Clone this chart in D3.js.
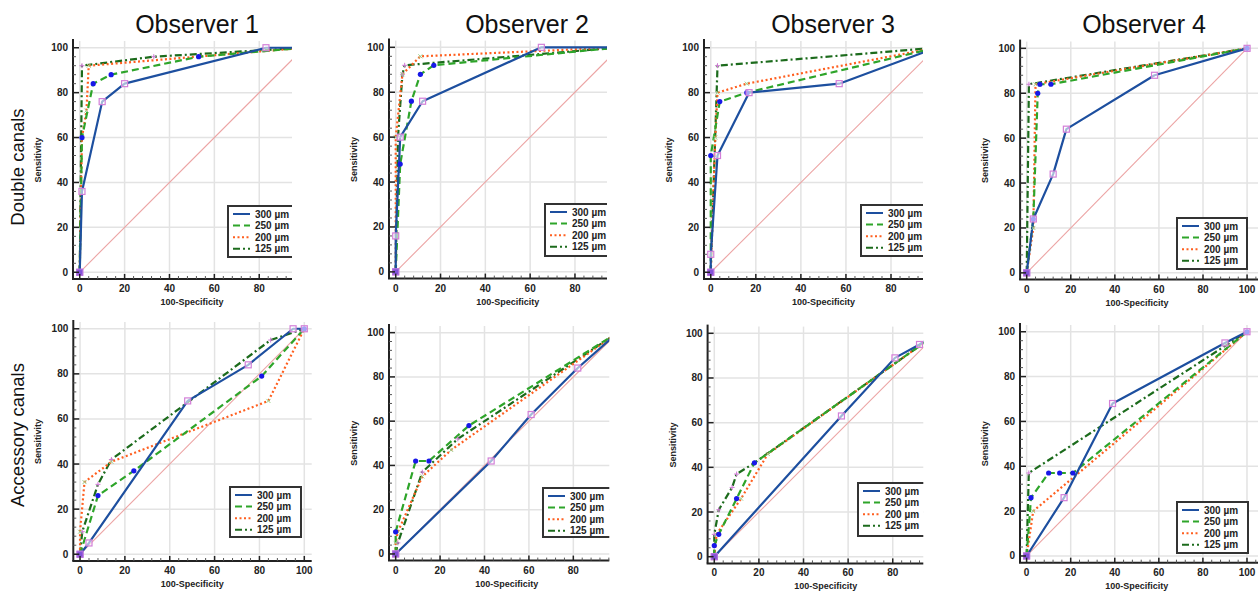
<!DOCTYPE html>
<html><head><meta charset="utf-8">
<script src="https://cdn.jsdelivr.net/npm/d3@7"></script>
<style>body{margin:0;background:#fff}svg{display:block;font-family:"Liberation Sans",Arial,sans-serif}</style>
</head><body><svg id="c" width="1258" height="591"></svg>
<script>
const observers = ["Observer 1","Observer 2","Observer 3","Observer 4"];
const rowLabels = ["Double canals","Accessory canals"];
const seriesNames = ["300 µm","250 µm","200 µm","125 µm"];
const tickValues = [0,20,40,60,80,100];
const xLabel = "100-Specificity";
const yLabel = "Sensitivity";

// Each panel: series in order 300, 250, 200, 125 µm; points are [100-Specificity, Sensitivity]
const doubleObs1 = [
  [[0,0],[1,36],[10,76],[20,84],[83,100],[100,100]],
  [[0,0],[1,60],[6,84],[14,88],[53,96],[100,100]],
  [[0,0],[1,60],[3,72],[4,92],[100,100]],
  [[0,0],[1,92],[33,96],[100,100]]
];
const doubleObs2 = [
  [[0,0],[0,16],[2,60],[12,76],[65,100],[100,100]],
  [[0,0],[2,48],[7,76],[11,88],[17,92],[100,100]],
  [[0,0],[0,60],[3,88],[11,96],[100,100]],
  [[0,0],[1,60],[3,88],[4,92],[100,100]]
];
const doubleObs3 = [
  [[0,0],[0,8],[3,52],[17,80],[57,84],[100,100]],
  [[0,0],[0,52],[4,76],[16,80],[100,100]],
  [[0,0],[2,60],[3,80],[16,84],[100,100]],
  [[0,0],[3,92],[100,100]]
];
const doubleObs4 = [
  [[0,0],[3,24],[12,44],[18,64],[58,88],[100,100]],
  [[0,0],[3,24],[5,80],[6,84],[11,84],[100,100]],
  [[0,0],[3,20],[4,84],[100,100]],
  [[0,0],[1,84],[100,100]]
];
const accessoryObs1 = [
  [[0,0],[4,5],[48,68],[75,84],[95,100],[100,100]],
  [[0,0],[8,26],[24,37],[81,79],[100,100]],
  [[0,0],[0,10],[2,32],[14,41],[84,68],[100,100]],
  [[0,0],[1,10],[8,31],[14,42],[85,95],[100,100]]
];
const accessoryObs2 = [
  [[0,0],[43,42],[61,63],[82,84],[100,100]],
  [[0,0],[0,10],[9,42],[15,42],[33,58],[100,100]],
  [[0,0],[0,5],[1,10],[12,35],[25,47],[100,100]],
  [[0,0],[1,5],[12,37],[28,52],[100,100]]
];
const accessoryObs3 = [
  [[0,0],[57,63],[81,89],[92,95],[100,100]],
  [[0,0],[0,5],[2,10],[10,26],[18,42],[100,100]],
  [[0,0],[1,10],[12,26],[24,46],[100,100]],
  [[0,0],[0,10],[2,21],[8,31],[10,37],[18,42],[100,100]]
];
const accessoryObs4 = [
  [[0,0],[17,26],[39,68],[90,95],[100,100]],
  [[0,0],[2,26],[10,37],[15,37],[21,37],[100,100]],
  [[0,0],[3,20],[100,100]],
  [[0,0],[1,37],[100,100]]
];
const panelData = [doubleObs1,doubleObs2,doubleObs3,doubleObs4,accessoryObs1,accessoryObs2,accessoryObs3,accessoryObs4];

// layout (pixels)
const panelBoxes = [
  {l:73,   t:41,   w:219,   h:238,   xMax:94.6, leg:{x:228, y:206, w:66, h:51}},
  {l:389,  t:40.6, w:218,   h:238,   xMax:94.3, leg:{x:545, y:204, w:64, h:52}},
  {l:704,  t:41,   w:219,   h:238,   xMax:94.2, leg:{x:861, y:205, w:64, h:51}},
  {l:1020.1,t:41.6,w:238,   h:238,   xMax:105,  leg:{x:1177,y:218, w:70, h:51}},
  {l:73.3, t:322,  w:238.4, h:239,   xMax:103.3,leg:{x:230, y:487, w:71, h:50}},
  {l:389,  t:326,  w:220.3, h:234.6, xMax:96.2, leg:{x:543, y:488, w:68, h:49}},
  {l:707.6,t:326.6,w:215.7, h:236.8, xMax:93.7, leg:{x:858, y:483, w:67, h:53}},
  {l:1020, t:325,  w:238,   h:237.7, xMax:105,  leg:{x:1177,y:502, w:71, h:51}}
];
const titleX = [197, 527, 833, 1144];

const styles = [
  {color:"#1d4f9f", dash:null,        width:2.2},
  {color:"#2ea52a", dash:"7,4",       width:2.2},
  {color:"#ff5f1f", dash:"2,2.5",     width:2.2},
  {color:"#1c6b1c", dash:"7,3,2,3",   width:2.2}
];

const svg = d3.select("#c");
const defs = svg.append("defs");

svg.selectAll("text.title").data(observers).join("text").attr("class","title")
  .attr("x",(d,i)=>titleX[i]).attr("y",33).attr("text-anchor","middle")
  .attr("font-size",25).attr("fill","#111").text(d=>d);
svg.selectAll("text.row").data(rowLabels).join("text").attr("class","row")
  .attr("transform",(d,i)=>`translate(24,${i===0?167:435}) rotate(-90)`)
  .attr("text-anchor","middle").attr("font-size",18.5).attr("fill","#111").text(d=>d);

panelData.forEach((series, pi) => {
  const b = panelBoxes[pi];
  const x = d3.scaleLinear().domain([-3, b.xMax]).range([b.l, b.l + b.w]);
  const y = d3.scaleLinear().domain([-3, 103]).range([b.t + b.h, b.t]);
  const g = svg.append("g");
  const cid = "clip" + pi;
  defs.append("clipPath").attr("id", cid).append("rect")
    .attr("x", b.l).attr("y", b.t - 4).attr("width", b.w).attr("height", b.h + 4);

  const xt = tickValues.filter(v => v <= b.xMax);
  g.selectAll(null).data(xt).join("line")
    .attr("x1", d => x(d)).attr("x2", d => x(d)).attr("y1", b.t).attr("y2", b.t + b.h)
    .attr("stroke", "#e3e3e3").attr("stroke-width", 1.5);
  g.selectAll(null).data(tickValues).join("line")
    .attr("y1", d => y(d)).attr("y2", d => y(d)).attr("x1", b.l).attr("x2", b.l + b.w)
    .attr("stroke", "#e3e3e3").attr("stroke-width", 1.5);

  const pg = g.append("g").attr("clip-path", `url(#${cid})`);
  const line = d3.line().x(d => x(d[0])).y(d => y(d[1]));
  pg.append("path").datum([[0,0],[100,100]]).attr("d", line).attr("fill","none")
    .attr("stroke", "#eca4a4").attr("stroke-width", 1.1);

  [3,2,1,0].forEach(si => {
    const s = styles[si];
    pg.append("path").datum(series[si]).attr("d", line).attr("fill", "none")
      .attr("stroke", s.color).attr("stroke-width", s.width)
      .attr("stroke-dasharray", s.dash).attr("stroke-linejoin","round");
  });
  [3,2,1,0].forEach(si => {
    const pts = series[si];
    if (si === 0) {
      pg.selectAll(null).data(pts).join("rect")
        .attr("x", d => x(d[0]) - 3).attr("y", d => y(d[1]) - 3).attr("width", 6).attr("height", 6)
        .attr("fill", "#fff").attr("fill-opacity", 0.6).attr("stroke", "#d37fd8").attr("stroke-width", 1.2);
    } else if (si === 1) {
      pg.selectAll(null).data(pts).join("circle")
        .attr("cx", d => x(d[0])).attr("cy", d => y(d[1])).attr("r", 2.6).attr("fill", "#1818e8");
    } else if (si === 2) {
      pg.selectAll(null).data(pts).join("path")
        .attr("d", d => `M${x(d[0])-2},${y(d[1])-2}L${x(d[0])+2},${y(d[1])+2}M${x(d[0])-2},${y(d[1])+2}L${x(d[0])+2},${y(d[1])-2}`)
        .attr("stroke", "#9ccf8a").attr("stroke-width", 1);
    } else {
      pg.selectAll(null).data(pts).join("path")
        .attr("d", d => `M${x(d[0])-2.5},${y(d[1])}L${x(d[0])+2.5},${y(d[1])}M${x(d[0])},${y(d[1])-2.5}L${x(d[0])},${y(d[1])+2.5}`)
        .attr("stroke", "#d07ad6").attr("stroke-width", 1);
    }
  });
  pg.append("rect").attr("x", x(0)-3).attr("y", y(0)-3).attr("width",6).attr("height",6)
    .attr("fill","#7a3fd0").attr("fill-opacity",0.8).attr("stroke","#b070e0").attr("stroke-width",1);

  g.append("line").attr("x1", b.l).attr("x2", b.l).attr("y1", b.t - 2).attr("y2", b.t + b.h)
    .attr("stroke", "#222").attr("stroke-width", 2);
  g.append("line").attr("x1", b.l - 1).attr("x2", b.l + b.w).attr("y1", b.t + b.h).attr("y2", b.t + b.h)
    .attr("stroke", "#222").attr("stroke-width", 2);
  const minorX = d3.range(0, b.xMax + 0.01, 4).filter(v => v % 20 !== 0);
  const minorY = d3.range(0, 101, 4).filter(v => v % 20 !== 0);
  g.selectAll(null).data(xt).join("line").attr("x1", d => x(d)).attr("x2", d => x(d))
    .attr("y1", b.t + b.h).attr("y2", b.t + b.h - 5).attr("stroke", "#222").attr("stroke-width", 1.5);
  g.selectAll(null).data(minorX).join("line").attr("x1", d => x(d)).attr("x2", d => x(d))
    .attr("y1", b.t + b.h).attr("y2", b.t + b.h - 3).attr("stroke", "#555").attr("stroke-width", 1);
  g.selectAll(null).data(tickValues).join("line").attr("y1", d => y(d)).attr("y2", d => y(d))
    .attr("x1", b.l).attr("x2", b.l + 6).attr("stroke", "#222").attr("stroke-width", 1.5);
  g.selectAll(null).data(minorY).join("line").attr("y1", d => y(d)).attr("y2", d => y(d))
    .attr("x1", b.l).attr("x2", b.l + 3).attr("stroke", "#555").attr("stroke-width", 1);

  g.selectAll(null).data(xt).join("text").attr("x", d => x(d)).attr("y", b.t + b.h + 13)
    .attr("text-anchor", "middle").attr("font-size", 10).attr("font-weight", "bold").attr("fill", "#222").text(d => d);
  g.selectAll(null).data(tickValues).join("text").attr("x", b.l - 5).attr("y", d => y(d) + 3.5)
    .attr("text-anchor", "end").attr("font-size", 10).attr("font-weight", "bold").attr("fill", "#222").text(d => d);
  g.append("text").attr("x", x(50)).attr("y", b.t + b.h + 26).attr("text-anchor", "middle")
    .attr("font-size", 9).attr("font-weight", "bold").attr("fill", "#222").text(xLabel);
  g.append("text").attr("transform", `translate(${b.l - 32},${y(50)}) rotate(-90)`).attr("text-anchor", "middle")
    .attr("font-size", 9).attr("font-weight", "bold").attr("fill", "#222").text(yLabel);

  const L = b.leg;
  const lg = g.append("g").attr("clip-path", `url(#${cid})`);
  lg.append("rect").attr("x", L.x).attr("y", L.y).attr("width", L.w).attr("height", L.h)
    .attr("fill", "#fff").attr("stroke", "#333").attr("stroke-width", 2);
  seriesNames.forEach((nm, si) => {
    const yy = L.y + 8 + si * 11.6;
    const s = styles[si];
    lg.append("line").attr("x1", L.x + 5).attr("x2", L.x + 22).attr("y1", yy).attr("y2", yy)
      .attr("stroke", s.color).attr("stroke-width", 2).attr("stroke-dasharray", s.dash);
    lg.append("text").attr("x", L.x + 27).attr("y", yy + 3.5).attr("font-size", 10)
      .attr("font-weight", "bold").attr("fill", "#222").text(nm);
  });
});
</script></body></html>
